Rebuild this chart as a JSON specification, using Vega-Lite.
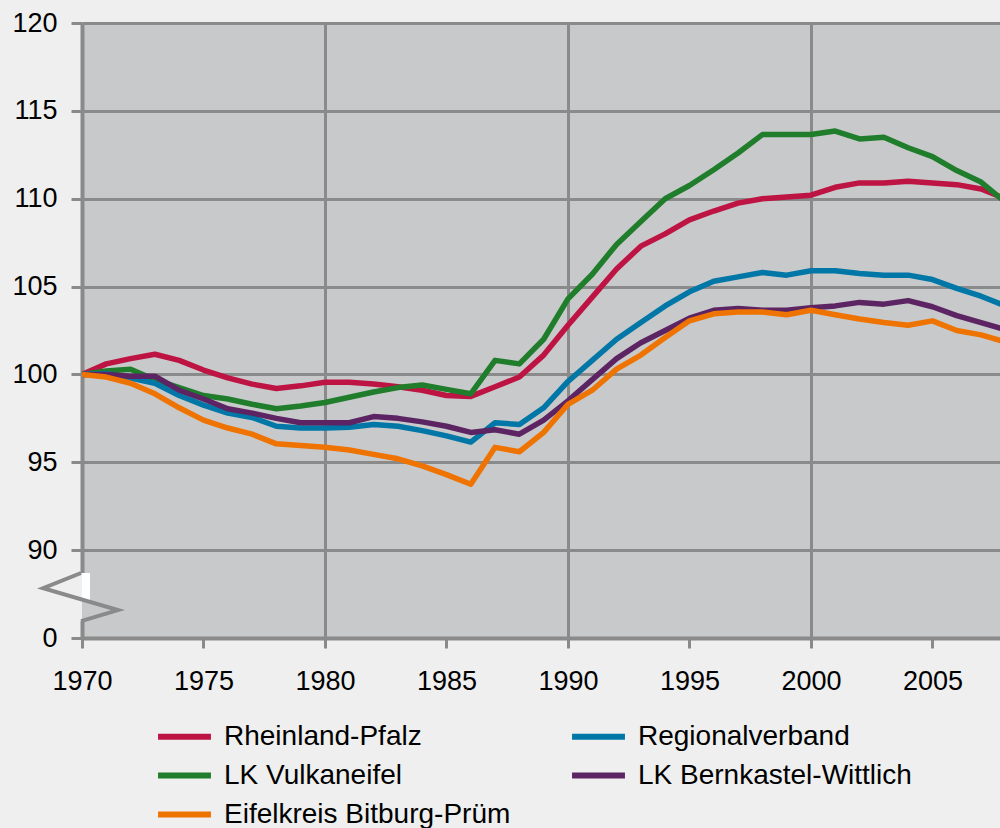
{
  "$schema": "https://vega.github.io/schema/vega-lite/v6.json",
  "width": 918,
  "height": 615,
  "autosize": {"type": "none"},
  "padding": {"left": 82, "top": 23, "right": 0, "bottom": 190},
  "background": "#eeefee",
  "datasets": {
    "series": [
      {"year": 1970, "Rheinland-Pfalz": 100.0, "LK Vulkaneifel": 100.0, "Regionalverband": 100.0, "LK Bernkastel-Wittlich": 100.0, "Eifelkreis Bitburg-Prüm": 100.0},
      {"year": 1971, "Rheinland-Pfalz": 100.6, "LK Vulkaneifel": 100.2, "Regionalverband": 100.05, "LK Bernkastel-Wittlich": 100.0, "Eifelkreis Bitburg-Prüm": 99.85},
      {"year": 1972, "Rheinland-Pfalz": 100.9, "LK Vulkaneifel": 100.3, "Regionalverband": 99.8, "LK Bernkastel-Wittlich": 99.9, "Eifelkreis Bitburg-Prüm": 99.5},
      {"year": 1973, "Rheinland-Pfalz": 101.15, "LK Vulkaneifel": 99.7, "Regionalverband": 99.5, "LK Bernkastel-Wittlich": 99.9, "Eifelkreis Bitburg-Prüm": 98.9},
      {"year": 1974, "Rheinland-Pfalz": 100.8, "LK Vulkaneifel": 99.25, "Regionalverband": 98.8, "LK Bernkastel-Wittlich": 99.1, "Eifelkreis Bitburg-Prüm": 98.1},
      {"year": 1975, "Rheinland-Pfalz": 100.25, "LK Vulkaneifel": 98.8, "Regionalverband": 98.25, "LK Bernkastel-Wittlich": 98.6, "Eifelkreis Bitburg-Prüm": 97.4},
      {"year": 1976, "Rheinland-Pfalz": 99.8, "LK Vulkaneifel": 98.6, "Regionalverband": 97.8, "LK Bernkastel-Wittlich": 98.05, "Eifelkreis Bitburg-Prüm": 96.95},
      {"year": 1977, "Rheinland-Pfalz": 99.45, "LK Vulkaneifel": 98.3, "Regionalverband": 97.55, "LK Bernkastel-Wittlich": 97.8, "Eifelkreis Bitburg-Prüm": 96.6},
      {"year": 1978, "Rheinland-Pfalz": 99.2, "LK Vulkaneifel": 98.05, "Regionalverband": 97.05, "LK Bernkastel-Wittlich": 97.5, "Eifelkreis Bitburg-Prüm": 96.05},
      {"year": 1979, "Rheinland-Pfalz": 99.35, "LK Vulkaneifel": 98.2, "Regionalverband": 96.95, "LK Bernkastel-Wittlich": 97.25, "Eifelkreis Bitburg-Prüm": 95.95},
      {"year": 1980, "Rheinland-Pfalz": 99.55, "LK Vulkaneifel": 98.4, "Regionalverband": 96.95, "LK Bernkastel-Wittlich": 97.25, "Eifelkreis Bitburg-Prüm": 95.85},
      {"year": 1981, "Rheinland-Pfalz": 99.55, "LK Vulkaneifel": 98.7, "Regionalverband": 97.0, "LK Bernkastel-Wittlich": 97.25, "Eifelkreis Bitburg-Prüm": 95.7},
      {"year": 1982, "Rheinland-Pfalz": 99.45, "LK Vulkaneifel": 99.0, "Regionalverband": 97.15, "LK Bernkastel-Wittlich": 97.6, "Eifelkreis Bitburg-Prüm": 95.45},
      {"year": 1983, "Rheinland-Pfalz": 99.3, "LK Vulkaneifel": 99.25, "Regionalverband": 97.05, "LK Bernkastel-Wittlich": 97.5, "Eifelkreis Bitburg-Prüm": 95.2},
      {"year": 1984, "Rheinland-Pfalz": 99.1, "LK Vulkaneifel": 99.4, "Regionalverband": 96.8, "LK Bernkastel-Wittlich": 97.3, "Eifelkreis Bitburg-Prüm": 94.8},
      {"year": 1985, "Rheinland-Pfalz": 98.8, "LK Vulkaneifel": 99.15, "Regionalverband": 96.5, "LK Bernkastel-Wittlich": 97.05, "Eifelkreis Bitburg-Prüm": 94.3},
      {"year": 1986, "Rheinland-Pfalz": 98.75, "LK Vulkaneifel": 98.9, "Regionalverband": 96.15, "LK Bernkastel-Wittlich": 96.7, "Eifelkreis Bitburg-Prüm": 93.75},
      {"year": 1987, "Rheinland-Pfalz": 99.3, "LK Vulkaneifel": 100.8, "Regionalverband": 97.25, "LK Bernkastel-Wittlich": 96.85, "Eifelkreis Bitburg-Prüm": 95.85},
      {"year": 1988, "Rheinland-Pfalz": 99.85, "LK Vulkaneifel": 100.6, "Regionalverband": 97.15, "LK Bernkastel-Wittlich": 96.6, "Eifelkreis Bitburg-Prüm": 95.6},
      {"year": 1989, "Rheinland-Pfalz": 101.1, "LK Vulkaneifel": 102.0, "Regionalverband": 98.1, "LK Bernkastel-Wittlich": 97.4, "Eifelkreis Bitburg-Prüm": 96.7},
      {"year": 1990, "Rheinland-Pfalz": 102.8, "LK Vulkaneifel": 104.3, "Regionalverband": 99.6, "LK Bernkastel-Wittlich": 98.5, "Eifelkreis Bitburg-Prüm": 98.3},
      {"year": 1991, "Rheinland-Pfalz": 104.4, "LK Vulkaneifel": 105.7, "Regionalverband": 100.8, "LK Bernkastel-Wittlich": 99.7, "Eifelkreis Bitburg-Prüm": 99.1},
      {"year": 1992, "Rheinland-Pfalz": 106.0, "LK Vulkaneifel": 107.4, "Regionalverband": 102.0, "LK Bernkastel-Wittlich": 100.9, "Eifelkreis Bitburg-Prüm": 100.3},
      {"year": 1993, "Rheinland-Pfalz": 107.3, "LK Vulkaneifel": 108.7, "Regionalverband": 102.95, "LK Bernkastel-Wittlich": 101.8, "Eifelkreis Bitburg-Prüm": 101.1},
      {"year": 1994, "Rheinland-Pfalz": 108.0, "LK Vulkaneifel": 110.0, "Regionalverband": 103.9, "LK Bernkastel-Wittlich": 102.5, "Eifelkreis Bitburg-Prüm": 102.1},
      {"year": 1995, "Rheinland-Pfalz": 108.8, "LK Vulkaneifel": 110.75, "Regionalverband": 104.7, "LK Bernkastel-Wittlich": 103.2, "Eifelkreis Bitburg-Prüm": 103.05},
      {"year": 1996, "Rheinland-Pfalz": 109.3, "LK Vulkaneifel": 111.65, "Regionalverband": 105.3, "LK Bernkastel-Wittlich": 103.65, "Eifelkreis Bitburg-Prüm": 103.45},
      {"year": 1997, "Rheinland-Pfalz": 109.75, "LK Vulkaneifel": 112.6, "Regionalverband": 105.55, "LK Bernkastel-Wittlich": 103.75, "Eifelkreis Bitburg-Prüm": 103.55},
      {"year": 1998, "Rheinland-Pfalz": 110.0, "LK Vulkaneifel": 113.65, "Regionalverband": 105.8, "LK Bernkastel-Wittlich": 103.65, "Eifelkreis Bitburg-Prüm": 103.55},
      {"year": 1999, "Rheinland-Pfalz": 110.1, "LK Vulkaneifel": 113.65, "Regionalverband": 105.65, "LK Bernkastel-Wittlich": 103.65, "Eifelkreis Bitburg-Prüm": 103.4},
      {"year": 2000, "Rheinland-Pfalz": 110.2, "LK Vulkaneifel": 113.65, "Regionalverband": 105.9, "LK Bernkastel-Wittlich": 103.8, "Eifelkreis Bitburg-Prüm": 103.65},
      {"year": 2001, "Rheinland-Pfalz": 110.65, "LK Vulkaneifel": 113.85, "Regionalverband": 105.9, "LK Bernkastel-Wittlich": 103.9, "Eifelkreis Bitburg-Prüm": 103.4},
      {"year": 2002, "Rheinland-Pfalz": 110.9, "LK Vulkaneifel": 113.4, "Regionalverband": 105.75, "LK Bernkastel-Wittlich": 104.1, "Eifelkreis Bitburg-Prüm": 103.15},
      {"year": 2003, "Rheinland-Pfalz": 110.9, "LK Vulkaneifel": 113.5, "Regionalverband": 105.65, "LK Bernkastel-Wittlich": 104.0, "Eifelkreis Bitburg-Prüm": 102.95},
      {"year": 2004, "Rheinland-Pfalz": 111.0, "LK Vulkaneifel": 112.9, "Regionalverband": 105.65, "LK Bernkastel-Wittlich": 104.2, "Eifelkreis Bitburg-Prüm": 102.8},
      {"year": 2005, "Rheinland-Pfalz": 110.9, "LK Vulkaneifel": 112.4, "Regionalverband": 105.4, "LK Bernkastel-Wittlich": 103.85, "Eifelkreis Bitburg-Prüm": 103.05},
      {"year": 2006, "Rheinland-Pfalz": 110.8, "LK Vulkaneifel": 111.6, "Regionalverband": 104.9, "LK Bernkastel-Wittlich": 103.35, "Eifelkreis Bitburg-Prüm": 102.5},
      {"year": 2007, "Rheinland-Pfalz": 110.55, "LK Vulkaneifel": 110.95, "Regionalverband": 104.45, "LK Bernkastel-Wittlich": 102.95, "Eifelkreis Bitburg-Prüm": 102.25},
      {"year": 2008, "Rheinland-Pfalz": 110.0, "LK Vulkaneifel": 109.8, "Regionalverband": 103.9, "LK Bernkastel-Wittlich": 102.55, "Eifelkreis Bitburg-Prüm": 101.85}
    ],
    "breakZigzag": [
      {"o": 0, "year": 1969.96, "value": 88.7},
      {"o": 1, "year": 1968.4, "value": 87.84},
      {"o": 2, "year": 1971.48, "value": 86.59},
      {"o": 3, "year": 1969.96, "value": 85.96}
    ],
    "breakOuter": [{"year": 1969.8, "year2": 1970.0, "value": 85.96, "value2": 88.7}],
    "breakWhite": [{"year": 1970.0, "year2": 1970.33, "value": 87.16, "value2": 88.7}],
    "breakGray": [{"year": 1970.0, "year2": 1970.33, "value": 85.96, "value2": 87.16}]
  },
  "encoding": {
    "x": {
      "field": "year",
      "type": "quantitative",
      "scale": {"domain": [1970, 2007.78], "nice": false, "zero": false},
      "axis": {
        "values": [1970, 1975, 1980, 1985, 1990, 1995, 2000, 2005],
        "format": "d",
        "title": null,
        "labelFlush": false,
        "labelOverlap": false,
        "labelPadding": 20,
        "tickSize": 10,
        "grid": true,
        "gridOpacity": {"condition": {"test": "datum.value % 10 == 0 && datum.value > 1970", "value": 1}, "value": 0}
      }
    },
    "y": {
      "field": "value",
      "type": "quantitative",
      "scale": {"domain": [85, 120], "nice": false, "zero": false},
      "axis": {
        "values": [85, 90, 95, 100, 105, 110, 115, 120],
        "labelExpr": "datum.value == 85 ? '0' : datum.label",
        "title": null,
        "labelOverlap": false,
        "labelFlush": false,
        "labelPadding": 14,
        "tickSize": 11,
        "grid": true
      }
    }
  },
  "layer": [
    {
      "data": {"name": "breakOuter"},
      "mark": {"type": "rect", "color": "#eeefee", "clip": false},
      "encoding": {"x2": {"field": "year2"}, "y2": {"field": "value2"}}
    },
    {
      "data": {"name": "breakWhite"},
      "mark": {"type": "rect", "color": "#ffffff", "clip": false},
      "encoding": {"x2": {"field": "year2"}, "y2": {"field": "value2"}}
    },
    {
      "data": {"name": "breakGray"},
      "mark": {"type": "rect", "color": "#c8c9cb", "clip": false},
      "encoding": {"x2": {"field": "year2"}, "y2": {"field": "value2"}}
    },
    {
      "data": {"name": "series"},
      "transform": [
        {"fold": ["Rheinland-Pfalz", "LK Vulkaneifel", "Regionalverband", "LK Bernkastel-Wittlich", "Eifelkreis Bitburg-Prüm"], "as": ["region", "value"]}
      ],
      "mark": {"type": "line", "strokeWidth": 5.5, "strokeJoin": "round", "clip": true},
      "encoding": {
        "color": {
          "field": "region",
          "type": "nominal",
          "scale": {
            "domain": ["Rheinland-Pfalz", "Regionalverband", "LK Vulkaneifel", "LK Bernkastel-Wittlich", "Eifelkreis Bitburg-Prüm"],
            "range": ["#bd1443", "#0077a6", "#1f7d2b", "#5c2463", "#ef7300"]
          },
          "legend": {
            "title": null,
            "orient": "none",
            "direction": "horizontal",
            "legendX": 86,
            "legendY": 697,
            "columns": 2,
            "columnPadding": 49,
            "rowPadding": 8,
            "padding": 0,
            "symbolType": "M-1.96,0H1.96",
            "symbolSize": 729,
            "symbolStrokeWidth": 6,
            "labelFontSize": 28,
            "labelFont": "Liberation Sans",
            "labelColor": "#000000",
            "labelOffset": 23,
            "labelLimit": 0
          }
        }
      }
    },
    {
      "data": {"name": "breakZigzag"},
      "mark": {"type": "line", "color": "#8a8a8a", "strokeWidth": 4, "clip": false},
      "encoding": {"order": {"field": "o", "type": "quantitative"}}
    }
  ],
  "config": {
    "view": {"fill": "#c8c9cb", "stroke": null},
    "font": "Liberation Sans",
    "axis": {
      "labelFont": "Liberation Sans",
      "labelFontSize": 27,
      "labelColor": "#000000",
      "domainColor": "#8a8a8a",
      "domainWidth": 4,
      "tickColor": "#8a8a8a",
      "tickWidth": 3,
      "gridColor": "#8a8a8a",
      "gridWidth": 3
    }
  }
}
